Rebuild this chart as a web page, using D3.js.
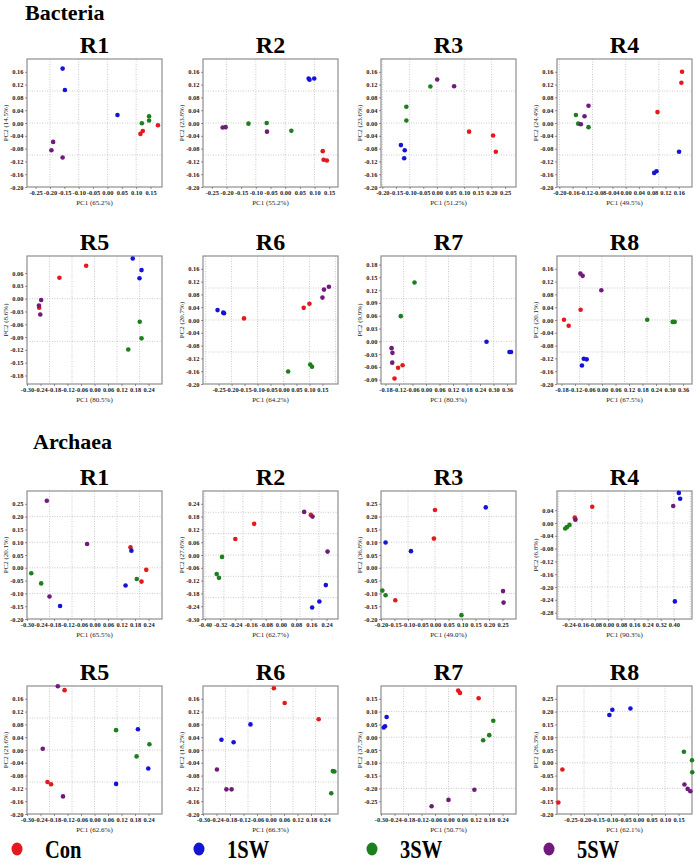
<!DOCTYPE html>
<html><head><meta charset="utf-8">
<script src="https://cdn.jsdelivr.net/npm/d3@7"></script>
<style>body{margin:0;background:#fff}</style>
</head><body><svg id="c" width="696" height="866"></svg>
<script>
// ---------------- DATA ----------------
const groups = ["Con", "1SW", "3SW", "5SW"];
const panelNames = ["R1", "R2", "R3", "R4", "R5", "R6", "R7", "R8"];
const sections = ["Bacteria", "Archaea"];

const bacteriaPC1 = ["65.2%", "55.2%", "51.2%", "49.5%", "80.5%", "64.2%", "80.3%", "67.5%"];
const bacteriaPC2 = ["14.5%", "23.8%", "23.6%", "24.4%", "8.6%", "20.7%", "9.9%", "20.1%"];
const archaeaPC1 = ["65.5%", "62.7%", "49.0%", "90.3%", "62.6%", "66.3%", "50.7%", "62.1%"];
const archaeaPC2 = ["20.1%", "27.6%", "36.8%", "6.8%", "21.6%", "18.2%", "37.3%", "26.3%"];

// tick label lists
const ticksA = [-0.25, -0.20, -0.15, -0.10, -0.05, 0.00, 0.05, 0.10, 0.15];
const ticksB = [-0.20, -0.15, -0.10, -0.05, 0.00, 0.05, 0.10, 0.15, 0.20, 0.25];
const ticksC = [-0.20, -0.16, -0.12, -0.08, -0.04, 0.00, 0.04, 0.08, 0.12, 0.16];
const ticksD = [-0.30, -0.24, -0.18, -0.12, -0.06, 0.00, 0.06, 0.12, 0.18, 0.24];
const ticksE = [-0.18, -0.12, -0.06, 0.00, 0.06, 0.12, 0.18, 0.24, 0.30, 0.36];
const ticksF = [-0.18, -0.15, -0.12, -0.09, -0.06, -0.03, 0.00, 0.03, 0.06];
const ticksG = [-0.09, -0.06, -0.03, 0.00, 0.03, 0.06, 0.09, 0.12, 0.15, 0.18];
const ticksH = [-0.40, -0.32, -0.24, -0.16, -0.08, 0.00, 0.08, 0.16, 0.24];
const ticksI = [-0.24, -0.16, -0.08, 0.00, 0.08, 0.16, 0.24, 0.32, 0.40];
const ticksJ = [-0.28, -0.24, -0.20, -0.16, -0.12, -0.08, -0.04, 0.00, 0.04];

const bacteriaXTicks = [ticksA, ticksA, ticksB, ticksC, ticksD, ticksA, ticksE, ticksE];
const bacteriaYTicks = [ticksC, ticksC, ticksC, ticksC, ticksF, ticksC, ticksG, ticksC];
const archaeaXTicks = [ticksD, ticksH, ticksB, ticksI, ticksD, ticksD, ticksD, ticksA];
const archaeaYTicks = [ticksB, ticksD, ticksB, ticksJ, ticksC, ticksC, ticksA, ticksB];

const bacteriaXDomains = [[-0.28, 0.19], [-0.28, 0.18], [-0.205, 0.29], [-0.207, 0.2], [-0.3, 0.3], [-0.31, 0.21], [-0.2, 0.4], [-0.2, 0.4]];
const bacteriaYDomains = [[-0.2, 0.2], [-0.2, 0.2], [-0.2, 0.2], [-0.2, 0.2], [-0.2, 0.1], [-0.2, 0.2], [-0.1, 0.2], [-0.2, 0.2]];
const archaeaXDomains = [[-0.3, 0.3], [-0.41, 0.3], [-0.2, 0.3], [-0.31, 0.51], [-0.3, 0.3], [-0.3, 0.3], [-0.3, 0.3], [-0.3, 0.2]];
const archaeaYDomains = [[-0.2, 0.3], [-0.3, 0.3], [-0.2, 0.3], [-0.3, 0.1], [-0.2, 0.2], [-0.2, 0.2], [-0.3, 0.2], [-0.2, 0.3]];

// points: [group, PC1, PC2]
const bacR1 = [["Con",0.176,-0.007],["Con",0.123,-0.025],["Con",0.115,-0.034],
  ["1SW",-0.156,0.170],["1SW",-0.148,0.103],["1SW",0.035,0.025],
  ["3SW",0.12,-0.001],["3SW",0.145,0.021],["3SW",0.145,0.008],
  ["5SW",-0.189,-0.059],["5SW",-0.195,-0.085],["5SW",-0.156,-0.108]];
const bacR2 = [["Con",0.128,-0.088],["Con",0.131,-0.115],["Con",0.142,-0.117],
  ["1SW",0.080,0.139],["1SW",0.083,0.135],["1SW",0.099,0.139],
  ["3SW",-0.125,-0.002],["3SW",-0.063,0.0],["3SW",0.021,-0.024],
  ["5SW",-0.213,-0.014],["5SW",-0.203,-0.013],["5SW",-0.062,-0.027]];
const bacR3 = [["Con",0.118,-0.027],["Con",0.206,-0.039],["Con",0.216,-0.090],
  ["1SW",-0.132,-0.069],["1SW",-0.118,-0.085],["1SW",-0.120,-0.110],
  ["3SW",-0.024,0.114],["3SW",-0.112,0.051],["3SW",-0.112,0.008],
  ["5SW",0.001,0.136],["5SW",0.063,0.115]];
const bacR4 = [["Con",0.17,0.160],["Con",0.168,0.126],["Con",0.096,0.034],
  ["1SW",0.161,-0.090],["1SW",0.093,-0.151],["1SW",0.086,-0.156],
  ["3SW",-0.15,0.025],["3SW",-0.143,-0.002],["3SW",-0.112,-0.013],
  ["5SW",-0.112,0.054],["5SW",-0.124,0.021],["5SW",-0.135,-0.004]];
const bacR5 = [["Con",-0.037,0.077],["Con",-0.156,0.049],["Con",-0.246,-0.021],
  ["1SW",0.170,0.094],["1SW",0.209,0.067],["1SW",0.2,0.048],
  ["3SW",0.201,-0.054],["3SW",0.209,-0.093],["3SW",0.150,-0.119],
  ["5SW",-0.237,-0.003],["5SW",-0.247,-0.016],["5SW",-0.241,-0.037]];
const bacR6 = [["Con",-0.152,0.005],["Con",0.078,0.038],["Con",0.1,0.051],
  ["1SW",-0.254,0.031],["1SW",-0.232,0.023],["1SW",-0.229,0.021],
  ["3SW",0.018,-0.161],["3SW",0.103,-0.139],["3SW",0.11,-0.146],
  ["5SW",0.15,0.070],["5SW",0.156,0.095],["5SW",0.175,0.104]];
const bacR7 = [["Con",-0.104,-0.056],["Con",-0.124,-0.062],["Con",-0.140,-0.087],
  ["1SW",0.269,-0.001],["1SW",0.371,-0.025],["1SW",0.378,-0.025],
  ["3SW",-0.051,0.138],["3SW",-0.112,0.059],
  ["5SW",-0.153,-0.016],["5SW",-0.149,-0.027],["5SW",-0.15,-0.050]];
const bacR8 = [["Con",-0.095,0.032],["Con",-0.169,0.001],["Con",-0.148,-0.018],
  ["1SW",-0.081,-0.121],["1SW",-0.068,-0.123],["1SW",-0.089,-0.142],
  ["3SW",0.201,0.001],["3SW",0.314,-0.006],["3SW",0.323,-0.006],
  ["5SW",-0.096,0.145],["5SW",-0.086,0.138],["5SW",-0.003,0.093]];

const arcR1 = [["Con",0.16,0.080],["Con",0.23,-0.008],["Con",0.209,-0.054],
  ["1SW",0.164,0.067],["1SW",0.138,-0.069],["1SW",-0.153,-0.149],
  ["3SW",-0.281,-0.021],["3SW",-0.237,-0.061],["3SW",0.188,-0.044],
  ["5SW",-0.212,0.262],["5SW",-0.033,0.093],["5SW",-0.2,-0.112]];
const arcR2 = [["Con",-0.240,0.075],["Con",-0.141,0.146],["Con",0.157,0.188],
  ["1SW",0.236,-0.141],["1SW",0.202,-0.218],["1SW",0.164,-0.246],
  ["3SW",-0.310,-0.009],["3SW",-0.338,-0.089],["3SW",-0.326,-0.107],
  ["5SW",0.122,0.202],["5SW",0.166,0.180],["5SW",0.245,0.016]];
const arcR3 = [["Con",0.0,0.226],["Con",-0.004,0.114],["Con",-0.147,-0.127],
  ["1SW",0.188,0.236],["1SW",-0.183,0.099],["1SW",-0.089,0.065],
  ["3SW",-0.195,-0.089],["3SW",-0.183,-0.107],["3SW",0.098,-0.185],
  ["5SW",0.252,-0.091],["5SW",0.254,-0.136]];
const arcR4 = [["Con",-0.096,0.051],["Con",-0.202,0.017],["Con",-0.2,0.013],
  ["1SW",0.43,0.094],["1SW",0.438,0.076],["1SW",0.406,-0.245],
  ["3SW",-0.26,-0.017],["3SW",-0.25,-0.013],["3SW",-0.234,-0.006],
  ["5SW",0.396,0.053],["5SW",-0.198,0.010]];
const arcR5 = [["Con",-0.133,0.187],["Con",-0.209,-0.100],["Con",-0.193,-0.107],
  ["1SW",0.193,0.065],["1SW",0.239,-0.058],["1SW",0.096,-0.106],
  ["3SW",0.096,0.062],["3SW",0.244,0.018],["3SW",0.187,-0.020],
  ["5SW",-0.163,0.199],["5SW",-0.230,0.004],["5SW",-0.14,-0.145]];
const arcR6 = [["Con",0.015,0.193],["Con",0.063,0.147],["Con",0.214,0.096],
  ["1SW",-0.089,0.080],["1SW",-0.218,0.032],["1SW",-0.164,0.024],
  ["3SW",0.277,-0.066],["3SW",0.284,-0.067],["3SW",0.27,-0.135],
  ["5SW",-0.238,-0.061],["5SW",-0.196,-0.123],["5SW",-0.173,-0.123]];
const arcR7 = [["Con",0.043,0.182],["Con",0.051,0.173],["Con",0.134,0.152],
  ["1SW",-0.275,0.079],["1SW",-0.282,0.043],["1SW",-0.288,0.038],
  ["3SW",0.199,0.064],["3SW",0.181,0.008],["3SW",0.154,-0.012],
  ["5SW",0.115,-0.205],["5SW",0.0,-0.245],["5SW",-0.075,-0.27]];
const arcR8 = [["Con",-0.280,-0.026],["Con",-0.295,-0.155],
  ["1SW",-0.106,0.187],["1SW",-0.095,0.207],["1SW",-0.028,0.212],
  ["3SW",0.170,0.043],["3SW",0.2,0.010],["3SW",0.201,-0.037],
  ["5SW",0.172,-0.085],["5SW",0.184,-0.102],["5SW",0.194,-0.111]];

const bacteriaPoints = [bacR1, bacR2, bacR3, bacR4, bacR5, bacR6, bacR7, bacR8];
const archaeaPoints = [arcR1, arcR2, arcR3, arcR4, arcR5, arcR6, arcR7, arcR8];

// ---------------- STYLE / LAYOUT ----------------
const colors = {"Con": "#e5181d", "1SW": "#1414d4", "3SW": "#1d7f1d", "5SW": "#6e1b7a"};
const serif = "'Liberation Serif','Times New Roman',serif";
const colX = [27, 203, 381, 557];
const rowY = [59, 256, 491, 686];
const PW = 135, PH = 128;

const svg = d3.select("#c");
const fmt = d => (d < -1e-9 ? "-" : "") + Math.abs(d).toFixed(2);

function drawPanel(cfg) {
  const {x0, y0, title, xDom, yDom, xTicks, yTicks, pc1, pc2, pts} = cfg;
  const g = svg.append("g");
  const x = d3.scaleLinear().domain(xDom).range([x0, x0 + PW]);
  const y = d3.scaleLinear().domain(yDom).range([y0 + PH, y0]);

  // grid at multiples of 0.1
  const gx = d3.range(Math.ceil(xDom[0] * 10 + 1e-6), Math.floor(xDom[1] * 10 - 1e-6) + 1).map(k => k / 10);
  const gy = d3.range(Math.ceil(yDom[0] * 10 + 1e-6), Math.floor(yDom[1] * 10 - 1e-6) + 1).map(k => k / 10);
  g.selectAll(".vg").data(gx).join("line")
    .attr("x1", d => x(d)).attr("x2", d => x(d)).attr("y1", y0).attr("y2", y0 + PH)
    .attr("stroke", "#bdbdbd").attr("stroke-width", 0.8).attr("stroke-dasharray", "1,1.5");
  g.selectAll(".hg").data(gy).join("line")
    .attr("y1", d => y(d)).attr("y2", d => y(d)).attr("x1", x0).attr("x2", x0 + PW)
    .attr("stroke", "#bdbdbd").attr("stroke-width", 0.8).attr("stroke-dasharray", "1,1.5");

  // frame
  g.append("rect").attr("x", x0).attr("y", y0).attr("width", PW).attr("height", PH)
    .attr("fill", "none").attr("stroke", "#8e8e8e").attr("stroke-width", 1.2);

  // axes
  const ax = g.append("g").attr("transform", `translate(0,${y0 + PH})`)
    .call(d3.axisBottom(x).tickValues(xTicks).tickSize(2).tickPadding(1.5).tickFormat(fmt));
  const ay = g.append("g").attr("transform", `translate(${x0},0)`)
    .call(d3.axisLeft(y).tickValues(yTicks).tickSize(2).tickPadding(1.5).tickFormat(fmt));
  [ax, ay].forEach(a => {
    a.select(".domain").remove();
    a.selectAll("line").attr("stroke", "#666").attr("stroke-width", 0.7);
    a.selectAll("text").attr("font-family", serif).attr("font-size", 6.4)
      .attr("font-weight", "bold").attr("fill", "#222");
  });

  // titles
  g.append("text").attr("x", x0 + PW / 2).attr("y", y0 - 6).attr("text-anchor", "middle")
    .attr("font-family", serif).attr("font-weight", "bold").attr("font-size", 24).text(title);
  g.append("text").attr("x", x0 + PW / 2).attr("y", y0 + PH + 18).attr("text-anchor", "middle")
    .attr("font-family", serif).attr("font-size", 7).attr("fill", "#222").text(`PC1 (${pc1})`);
  g.append("text").attr("transform", `translate(${x0 - 19},${y0 + PH / 2}) rotate(-90)`)
    .attr("text-anchor", "middle").attr("font-family", serif).attr("font-size", 7).attr("fill", "#222")
    .text(`PC2 (${pc2})`);

  // points
  g.selectAll(".pt").data(pts).join("circle")
    .attr("cx", d => x(d[1])).attr("cy", d => y(d[2])).attr("r", 2.3)
    .attr("fill", d => colors[d[0]]);
}

panelNames.forEach((name, i) => {
  drawPanel({x0: colX[i % 4], y0: rowY[Math.floor(i / 4)], title: name,
    xDom: bacteriaXDomains[i], yDom: bacteriaYDomains[i], xTicks: bacteriaXTicks[i], yTicks: bacteriaYTicks[i],
    pc1: bacteriaPC1[i], pc2: bacteriaPC2[i], pts: bacteriaPoints[i]});
  drawPanel({x0: colX[i % 4], y0: rowY[2 + Math.floor(i / 4)], title: name,
    xDom: archaeaXDomains[i], yDom: archaeaYDomains[i], xTicks: archaeaXTicks[i], yTicks: archaeaYTicks[i],
    pc1: archaeaPC1[i], pc2: archaeaPC2[i], pts: archaeaPoints[i]});
});

// section labels
svg.append("text").attr("x", 25).attr("y", 20).attr("font-family", serif).attr("font-weight", "bold")
  .attr("font-size", 22).text(sections[0]);
svg.append("text").attr("x", 33).attr("y", 449).attr("font-family", serif).attr("font-weight", "bold")
  .attr("font-size", 22).text(sections[1]);

// legend
const legX = [17, 199, 372, 549];
groups.forEach((gname, i) => {
  svg.append("ellipse").attr("cx", legX[i]).attr("cy", 849).attr("rx", 5.5).attr("ry", 6.5)
    .attr("fill", colors[gname]);
  svg.append("text").attr("transform", `translate(${legX[i] + 28},858) scale(0.82,1)`)
    .attr("font-family", serif).attr("font-weight", "bold").attr("font-size", 25).text(gname);
});
</script></body></html>
